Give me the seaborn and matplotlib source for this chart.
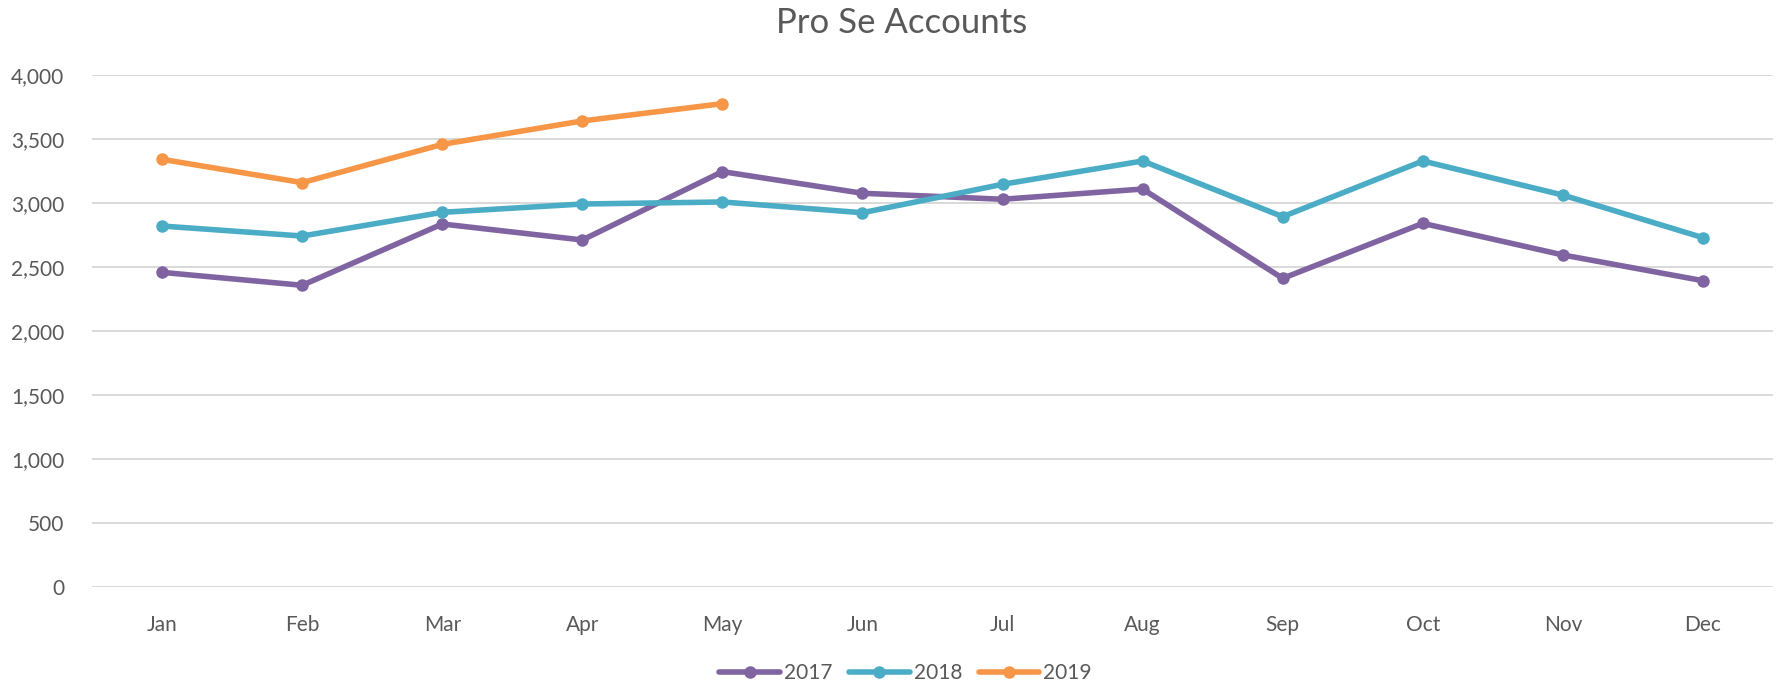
import numpy as np
import pandas as pd
import matplotlib
matplotlib.use("Agg")
import matplotlib.pyplot as plt
import seaborn as sns

months = ["Jan", "Feb", "Mar", "Apr", "May", "Jun",
          "Jul", "Aug", "Sep", "Oct", "Nov", "Dec"]
years = ["2017", "2018", "2019"]

accounts_2017 = [2458, 2357, 2836, 2711, 3245, 3076, 3029, 3109, 2411, 2841, 2594, 2393]
accounts_2018 = [2820, 2742, 2927, 2992, 3008, 2924, 3146, 3328, 2893, 3328, 3062, 2729]
accounts_2019 = [3341, 3159, 3458, 3641, 3776]

colors = ["#8064A2", "#4BACC6", "#F79646"]
TEXT = "#595959"

sns.set_theme(style="white")
plt.rcParams["font.family"] = ["Lato", "DejaVu Sans"]

rows = []
for year, vals in zip(years, [accounts_2017, accounts_2018, accounts_2019]):
    for m, v in zip(months, vals):
        rows.append({"month": months.index(m), "year": year, "value": v})
df = pd.DataFrame(rows)

fig = plt.figure(figsize=(17.81, 6.86), dpi=100)
ax = fig.add_axes([0.0517, 0.1443, 0.9438, 0.7464])

sns.lineplot(data=df, x="month", y="value", hue="year", hue_order=years,
             palette=colors, marker="o", markersize=9, markeredgewidth=0,
             linewidth=4, ax=ax, legend=True)

ax.set_xlim(-0.5, 11.5)
ax.set_ylim(0, 4000)
ax.set_yticks(np.arange(0, 4001, 500))
ax.set_yticklabels([f"{v:,}" for v in range(0, 4001, 500)])
ax.set_xticks(range(12))
ax.set_xticklabels(months)
ax.grid(axis="y", color="#D9D9D9", linewidth=1.4)
ax.set_axisbelow(True)
for s in ["top", "right", "left", "bottom"]:
    ax.spines[s].set_visible(False)
ax.tick_params(axis="both", length=0, labelsize=15, colors=TEXT)
ax.tick_params(axis="x", pad=20)
ax.tick_params(axis="y", pad=20)
ax.set_xlabel("")
ax.set_ylabel("")

fig.suptitle("Pro Se Accounts", x=0.506, y=0.99, fontsize=25, color=TEXT)

handles, labels = ax.get_legend_handles_labels()
ax.legend(handles, labels, loc="lower center", bbox_to_anchor=(0.484, -0.225),
          ncol=3, frameon=False, fontsize=15, labelcolor=TEXT,
          handlelength=2.9, handletextpad=0.2, columnspacing=0.8)

plt.savefig("out.png", dpi=100)
